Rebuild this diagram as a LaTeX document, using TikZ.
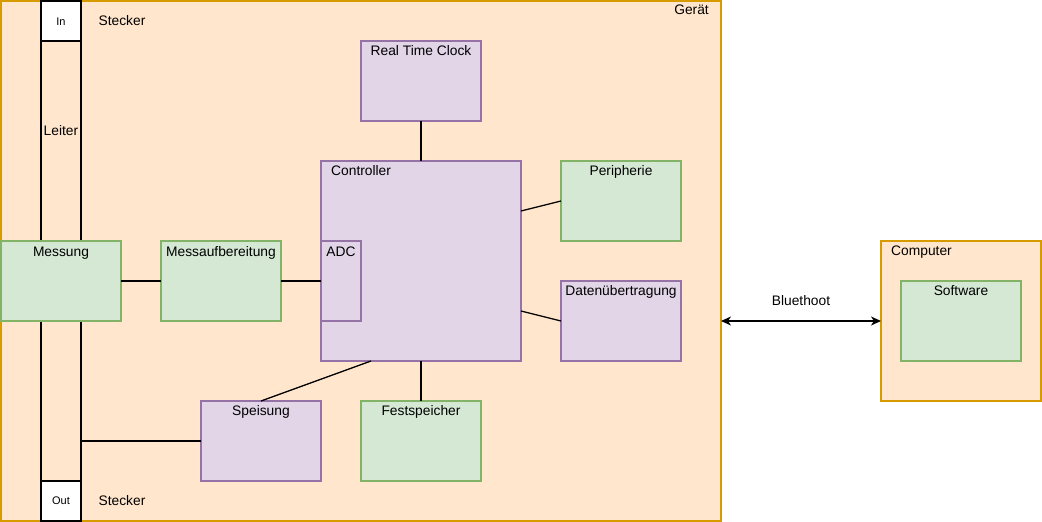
\documentclass[tikz,border=0pt]{standalone}
\usepackage{fontspec}
\setmainfont{Liberation Sans}
\usetikzlibrary{arrows.meta,calc}
\definecolor{oF}{HTML}{FFE6CC}\definecolor{oD}{HTML}{D79B00}
\definecolor{gF}{HTML}{D5E8D4}\definecolor{gD}{HTML}{82B366}
\definecolor{pF}{HTML}{E1D5E7}\definecolor{pD}{HTML}{9673A6}
\begin{document}
\begin{tikzpicture}[x=1pt,y=-1pt,
  blk/.style={anchor=north west, inner sep=0pt, outer sep=0pt, line width=1.4pt},
  obox/.style={blk, fill=oF, draw=oD},
  gbox/.style={blk, fill=gF, draw=gD},
  pbox/.style={blk, fill=pF, draw=pD},
  wbox/.style={blk, fill=white, draw=black, line width=1.2pt},
  lbl/.style={font=\fontsize{13.8}{16}\selectfont, inner sep=0pt, anchor=base},
  slbl/.style={font=\fontsize{11}{13}\selectfont, inner sep=0pt, anchor=base},
  wire/.style={draw=black, line width=1.3pt}]
\useasboundingbox (0,0) rectangle (1042,522);
\fill[white] (0,0) rectangle (1042,522);
% containers
\node[obox, minimum width=720pt, minimum height=520pt] (geraet) at (1,1) {};
\node[obox, minimum width=160pt, minimum height=160pt] (comp) at (881,241) {};
% Leiter and plugs
\node[blk, draw=black, line width=1.2pt, minimum width=40pt, minimum height=440pt] (leiter) at (41,41) {};
\node[wbox, minimum width=40pt, minimum height=40pt] (in) at (41,1) {};
\node[wbox, minimum width=40pt, minimum height=40pt] (out) at (41,481) {};
% boxes
\node[gbox, minimum width=120pt, minimum height=80pt] (mess) at (1,241) {};
\node[gbox, minimum width=120pt, minimum height=80pt] (messauf) at (161,241) {};
\node[pbox, minimum width=200pt, minimum height=200pt] (ctrl) at (321,161) {};
\node[pbox, minimum width=40pt, minimum height=80pt] (adc) at (321,241) {};
\node[pbox, minimum width=120pt, minimum height=80pt] (rtc) at (361,41) {};
\node[gbox, minimum width=120pt, minimum height=80pt] (peri) at (561,161) {};
\node[pbox, minimum width=120pt, minimum height=80pt] (daten) at (561,281) {};
\node[pbox, minimum width=120pt, minimum height=80pt] (speis) at (201,401) {};
\node[gbox, minimum width=120pt, minimum height=80pt] (fest) at (361,401) {};
\node[gbox, minimum width=120pt, minimum height=80pt] (soft) at (901,281) {};
% connectors between named nodes
\draw[wire] (mess.east) -- (messauf.west);
\draw[wire] (messauf.east) -- (adc.west);
\draw[wire] (rtc.south) -- (ctrl.north);
\draw[wire] (ctrl.south) -- (fest.north);
\draw[wire] ($(ctrl.south west)+(50,0)$) -- (speis.north);
\draw[wire] ($(ctrl.north east)+(0,50)$) -- (peri.west);
\draw[wire] ($(ctrl.north east)+(0,150)$) -- (daten.west);
\draw[wire] ($(leiter.north east)+(0,400)$) -- (speis.west);
\draw[wire, {Stealth[length=10pt,width=9pt,inset=3pt]}-{Stealth[length=10pt,width=9pt,inset=3pt]}]
  ($(geraet.north east)+(0,320)$) coordinate (bt) -- (comp.west);
% labels
\node[lbl, anchor=base east] at (709,15) {Gerät};
\node[lbl] at (122,25) {Stecker};
\node[lbl] at (122,505) {Stecker};
\node[slbl] at ($(in.center)+(0,4)$) {In};
\node[slbl] at ($(out.center)+(0,3)$) {Out};
\node[lbl] at ($(leiter.north)+(0,94)$) {Leiter};
\node[lbl] at ($(mess.north)+(0,15)$) {Messung};
\node[lbl] at ($(messauf.north)+(0,15)$) {Messaufbereitung};
\node[lbl] at ($(adc.north)+(0,15)$) {ADC};
\node[lbl, anchor=base west] at ($(ctrl.north west)+(10,14)$) {Controller};
\node[lbl] at ($(rtc.north)+(0,14)$) {Real Time Clock};
\node[lbl] at ($(peri.north)+(0,14)$) {Peripherie};
\node[lbl] at ($(daten.north)+(0,14)$) {Datenübertragung};
\node[lbl] at ($(speis.north)+(0,14)$) {Speisung};
\node[lbl] at ($(fest.north)+(0,14)$) {Festspeicher};
\node[lbl, anchor=base west] at ($(comp.north west)+(10,14)$) {Computer};
\node[lbl] at ($(soft.north)+(0,14)$) {Software};
\node[lbl] at ($(bt)!0.5!(comp.west)+(0,-16)$) {Bluethoot};
\end{tikzpicture}
\end{document}
